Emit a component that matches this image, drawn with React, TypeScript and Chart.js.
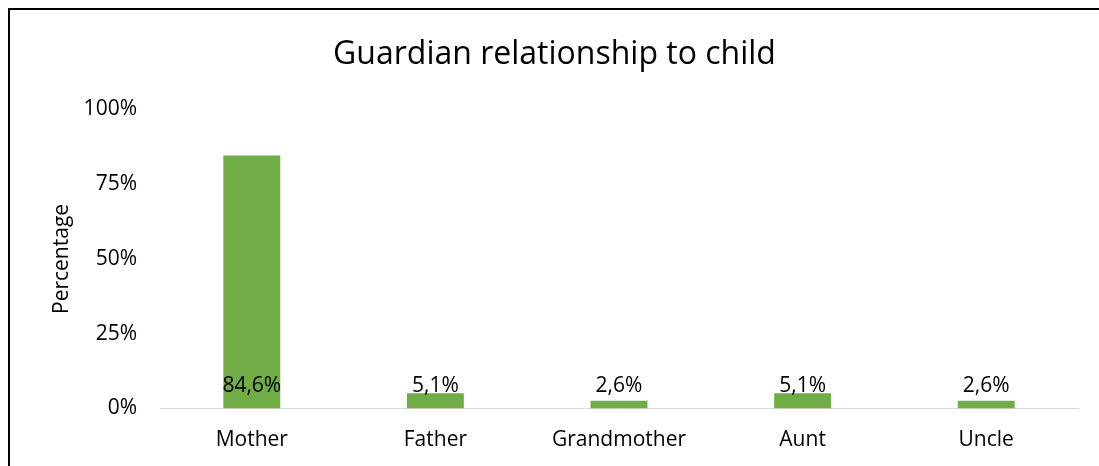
import React, { useEffect, useRef } from "react";
import { Chart, registerables } from "chart.js";

Chart.register(...registerables);

const categories = ["Mother", "Father", "Grandmother", "Aunt", "Uncle"];
const percentages = [84.6, 5.1, 2.6, 5.1, 2.6];
const yTicks = [0, 25, 50, 75, 100];
const titleText = "Guardian relationship to child";
const yAxisTitle = "Percentage";

const FONT = "'Open Sans', sans-serif";

const valueLabels = {
  id: "valueLabels",
  afterDatasetsDraw(chart: any) {
    const { ctx } = chart;
    const meta = chart.getDatasetMeta(0);
    const yScale = chart.scales.y;
    const zero = yScale.getPixelForValue(0);
    ctx.save();
    ctx.font = `21px ${FONT}`;
    ctx.fillStyle = "#000";
    ctx.textAlign = "center";
    ctx.textBaseline = "alphabetic";
    meta.data.forEach((bar: any, i: number) => {
      const txt = percentages[i].toFixed(1).replace(".", ",") + "%";
      ctx.fillText(txt, bar.x, zero - 16.5);
    });
    ctx.restore();
  },
};

export default function App() {
  const ref = useRef<HTMLCanvasElement | null>(null);
  useEffect(() => {
    if (!ref.current) return;
    const chart = new Chart(ref.current, {
      type: "bar",
      data: {
        labels: categories,
        datasets: [
          {
            data: percentages,
            backgroundColor: "#70AD47",
            categoryPercentage: 1,
            barPercentage: 0.31,
          },
        ],
      },
      options: {
        animation: false,
        responsive: true,
        maintainAspectRatio: false,
        layout: { padding: { left: 21, right: 21, top: 0, bottom: 0 } },
        plugins: {
          legend: { display: false },
          tooltip: { enabled: false },
          title: {
            display: true,
            text: titleText,
            color: "#000",
            font: { family: FONT, size: 32, weight: "normal" },
            padding: { top: 26, bottom: 35 },
          },
        },
        scales: {
          x: {
            grid: { display: false, drawTicks: false },
            border: { display: true, color: "#D9D9D9", width: 1 },
            ticks: {
              color: "#000",
              font: { family: FONT, size: 21 },
              padding: 19,
              maxRotation: 0,
            },
            afterFit(scale: any) {
              scale.height = 57.5;
            },
          },
          y: {
            min: 0,
            max: 100,
            grid: { display: false, drawTicks: false },
            border: { display: false },
            afterBuildTicks(scale: any) {
              scale.ticks = yTicks.map((v) => ({ value: v }));
            },
            ticks: {
              color: "#000",
              font: { family: FONT, size: 21 },
              padding: 23,
              callback: (v: any) => v + "%",
            },
            title: {
              display: true,
              text: yAxisTitle,
              color: "#000",
              font: { family: FONT, size: 21 },
              padding: { top: 18, bottom: 0 },
            },
            afterFit(scale: any) {
              scale.width = 129;
            },
          },
        },
      },
      plugins: [valueLabels],
    });
    return () => chart.destroy();
  }, []);

  return (
    <div
      style={{
        position: "fixed",
        left: 8,
        top: 8,
        width: 1091,
        height: 458,
        borderLeft: "2px solid #000",
        borderTop: "2px solid #000",
        boxSizing: "border-box",
        background: "#fff",
      }}
    >
      <div style={{ position: "relative", width: 1089, height: 456 }}>
        <canvas ref={ref} />
      </div>
    </div>
  );
}
